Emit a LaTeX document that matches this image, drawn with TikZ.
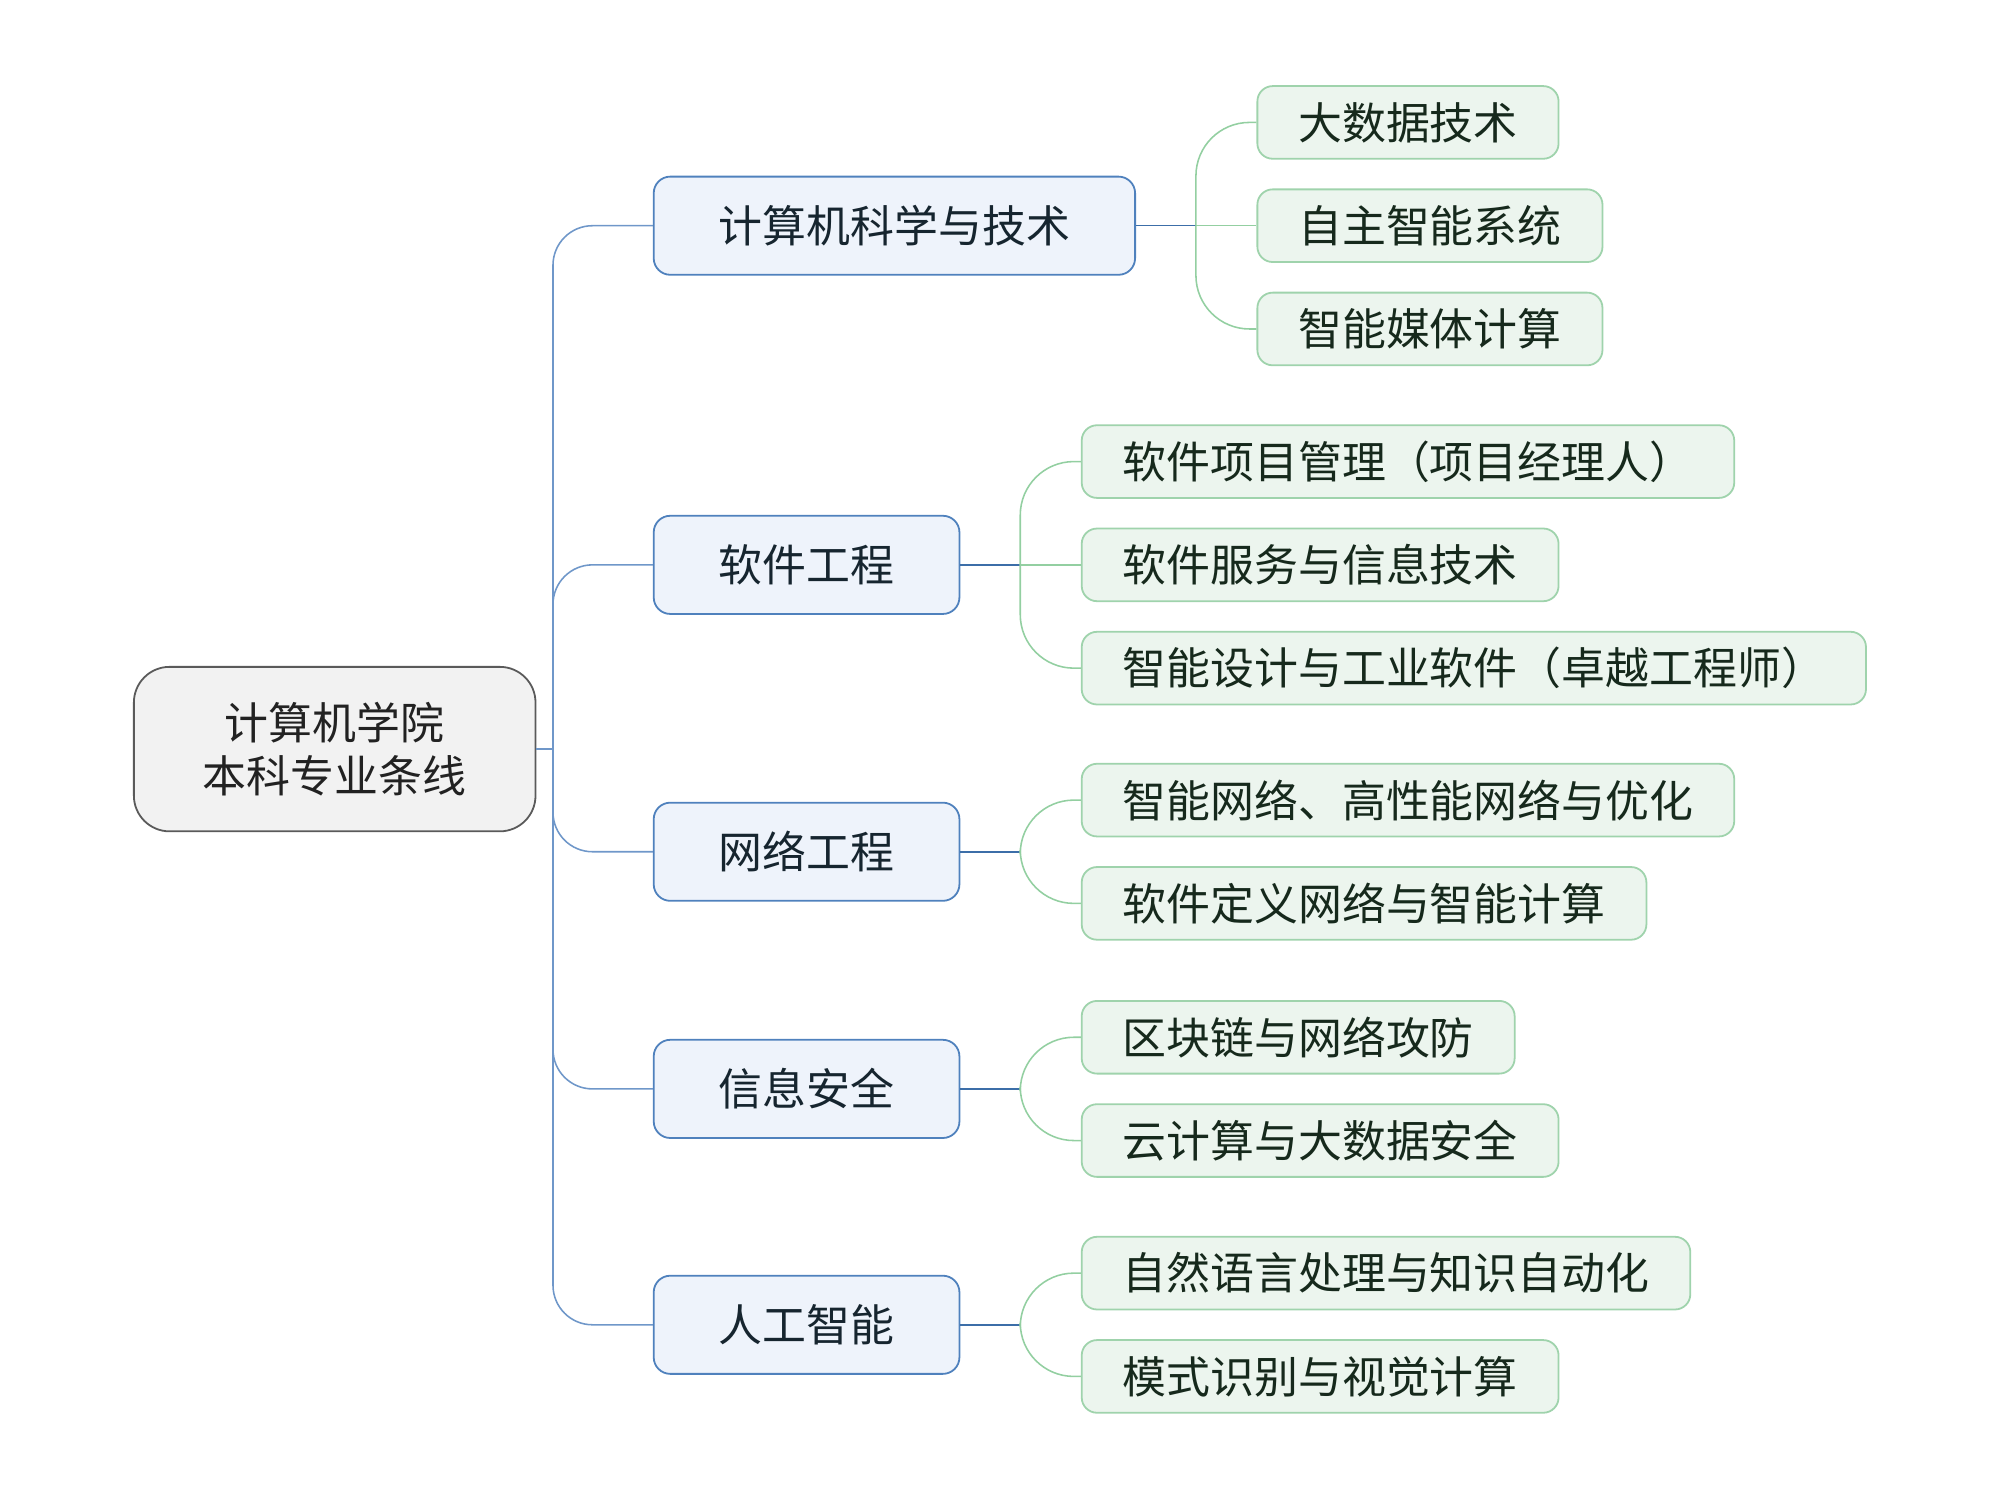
\documentclass[tikz,border=0pt]{standalone}
\usepackage{fontspec}
\setmainfont{Noto Sans CJK SC}
\usetikzlibrary{positioning}
\definecolor{rootfill}{HTML}{F2F2F2}
\definecolor{rootline}{HTML}{5A5A5A}
\definecolor{roottext}{HTML}{222222}
\definecolor{mainfill}{HTML}{EEF3FB}
\definecolor{mainline}{HTML}{4F81BD}
\definecolor{maintext}{HTML}{16252F}
\definecolor{leaffill}{HTML}{ECF5EE}
\definecolor{leafline}{HTML}{9FD3AC}
\definecolor{leaftext}{HTML}{16291C}
\definecolor{trunkline}{HTML}{6F97C9}
\definecolor{stemline}{HTML}{3C6EA8}
\definecolor{twigline}{HTML}{93CFA1}
\begin{document}
\begin{tikzpicture}[
  font=\fontsize{9.8pt}{12pt}\selectfont,
  rootbox/.style={draw=rootline, fill=rootfill, rounded corners=0.28cm, line width=0.4pt,
    minimum width=3.15cm, minimum height=1.29cm, align=center, text=roottext},
  mainbox/.style={draw=mainline, fill=mainfill, rounded corners=0.13cm, line width=0.4pt,
    minimum height=0.77cm, inner xsep=0.51cm, text=maintext},
  leafbox/.style={draw=leafline, fill=leaffill, rounded corners=0.12cm, line width=0.4pt,
    minimum height=0.57cm, inner xsep=0.32cm, text=leaftext},
  trunk/.style={draw=trunkline, line width=0.35pt, rounded corners=0.31cm},
  stem/.style={draw=stemline, line width=0.35pt},
  twig/.style={draw=twigline, line width=0.35pt, rounded corners=0.42cm}
]
\useasboundingbox (0,0) rectangle (15.686,-11.765);

% Root
\node[rootbox] (college) at (2.625,-5.875) {计算机学院\\本科专业条线};

% Majors
\node[mainbox, anchor=west] (cst) at (5.12,-1.77) {计算机科学与技术};
\node[mainbox, anchor=west] (se) at (5.12,-4.43) {软件工程};
\node[mainbox, anchor=west] (ne) at (5.12,-6.68) {网络工程};
\node[mainbox, anchor=west] (is) at (5.12,-8.54) {信息安全};
\node[mainbox, anchor=west] (ai) at (5.12,-10.39) {人工智能};

% Directions
\node[leafbox, right=0.945cm of cst, yshift=0.81cm] (cst1) {大数据技术};
\node[leafbox, right=0.945cm of cst] (cst2) {自主智能系统};
\node[leafbox, right=0.945cm of cst, yshift=-0.81cm] (cst3) {智能媒体计算};

\node[leafbox, right=0.945cm of se, yshift=0.81cm] (se1) {软件项目管理（项目经理人）};
\node[leafbox, right=0.945cm of se] (se2) {软件服务与信息技术};
\node[leafbox, right=0.945cm of se, yshift=-0.81cm] (se3) {智能设计与工业软件（卓越工程师）};

\node[leafbox, right=0.945cm of ne, yshift=0.405cm] (ne1) {智能网络、高性能网络与优化};
\node[leafbox, right=0.945cm of ne, yshift=-0.405cm] (ne2) {软件定义网络与智能计算};

\node[leafbox, right=0.945cm of is, yshift=0.405cm] (is1) {区块链与网络攻防};
\node[leafbox, right=0.945cm of is, yshift=-0.405cm] (is2) {云计算与大数据安全};

\node[leafbox, right=0.945cm of ai, yshift=0.405cm] (ai1) {自然语言处理与知识自动化};
\node[leafbox, right=0.945cm of ai, yshift=-0.405cm] (ai2) {模式识别与视觉计算};

% Trunk from the root
\coordinate[right=0.13cm of college] (trunk);
\draw[trunk] (college) -- (trunk);
\draw[trunk] (trunk) |- (cst.west);
\draw[trunk] (trunk) |- (se.west);
\draw[trunk] (trunk) |- (ne.west);
\draw[trunk] (trunk) |- (is.west);
\draw[trunk] (trunk) |- (ai.west);

% Forks to the directions
\coordinate[right=0.47cm of cst] (cst_fork);
\coordinate[right=0.47cm of se] (se_fork);
\coordinate[right=0.47cm of ne] (ne_fork);
\coordinate[right=0.47cm of is] (is_fork);
\coordinate[right=0.47cm of ai] (ai_fork);

\draw[stem] (cst) -- (cst_fork);
\draw[stem] (se) -- (se_fork);
\draw[stem] (ne) -- (ne_fork);
\draw[stem] (is) -- (is_fork);
\draw[stem] (ai) -- (ai_fork);

\draw[twig] (cst_fork) |- (cst1.west);
\draw[twig] (cst_fork) -- (cst2.west);
\draw[twig] (cst_fork) |- (cst3.west);
\draw[twig] (se_fork) |- (se1.west);
\draw[twig] (se_fork) -- (se2.west);
\draw[twig] (se_fork) |- (se3.west);
\draw[twig] (ne_fork) |- (ne1.west);
\draw[twig] (ne_fork) |- (ne2.west);
\draw[twig] (is_fork) |- (is1.west);
\draw[twig] (is_fork) |- (is2.west);
\draw[twig] (ai_fork) |- (ai1.west);
\draw[twig] (ai_fork) |- (ai2.west);
\end{tikzpicture}
\end{document}
